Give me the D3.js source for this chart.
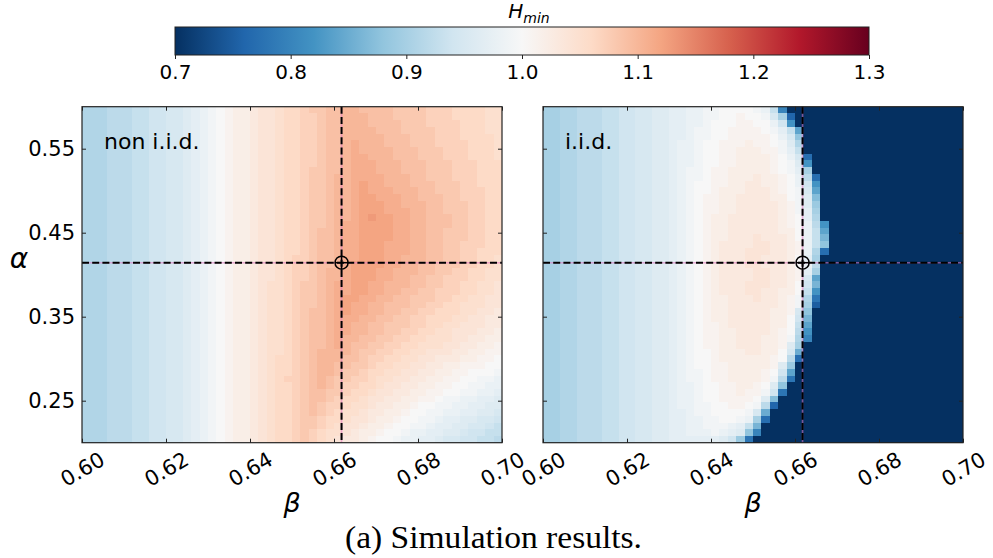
<!DOCTYPE html>
<html>
<head>
<meta charset="utf-8">
<script src="https://cdn.jsdelivr.net/npm/d3@7"></script>
<style>
  html, body { margin: 0; padding: 0; background: #fff; }
  svg text { font-family: "DejaVu Sans", sans-serif; fill: #000; }
</style>
</head>
<body>
<svg id="fig" width="993" height="558"></svg>
<script>
// ---------------- data ----------------
const betaTicks  = [0.60, 0.62, 0.64, 0.66, 0.68, 0.70];
const alphaTicks = [0.25, 0.35, 0.45, 0.55];
const cbarTicks  = [0.7, 0.8, 0.9, 1.0, 1.1, 1.2, 1.3];
const betaRange  = [0.60, 0.70];
const alphaRange = [0.20, 0.60];
const betaStar   = 0.6618;
const alphaStar  = 0.4143;
const panelTitles = ["non i.i.d.", "i.i.d."];

// Each grid row is one alpha cell (top row = alpha 0.60), one character per beta cell.
// A character's index in CODE gives H_min = 0.70 + 0.01 * index.
const CODE = "0123456789abcdefghijklmnopqrstuvwxyzABCDEFGHIJKLMNOPQRSTUVWXYZ";

const nonIidRows = [
  "lllmmmnnooppqrstuvwwxyyzAABCCDDEEDDDDCCCCBBBAAAAzz",
  "lllmmmnnooppqrstuvwwxyyzAABBCDDEEEDDDCCCCBBBAAAAzz",
  "lllmmmnnooppqrstuvwwxyyzAABBCDDEEEDDDDCCCBBBBAAAzz",
  "lllmmmnnooppqrstuvwwxyyzAABBCDDEEEEDDDCCCCBBBAAAzz",
  "lllmmmnnooppqrstuvwwxyyzAABBCDDEEEEEDDDCCCBBBAAAAz",
  "lllmmmnnooppqrstuvwwxyyzAABBCDDEFEEEDDDCCCBBBBAAAz",
  "lllmmmnnooppqrstuvwwxyyzAABBCDDEFEEEEDDDCCCBBBAAAz",
  "lllmmmnnooppqrstuvwwxyyzAABBCDDEFFEEEDDDCCCBBBAAAz",
  "lllmmmnnooppqrstuvwwxyyzAABBCDDEFFFEEEDDDCCCBBBAAA",
  "lllmmmnnooppqrstuvwwxyyzAABCCDDEFFFEEEDDDCCCBBBAAA",
  "lllmmmnnooppqrstuvwwxyyzAABCCDEEFFFFEEEDDCCCBBBAAA",
  "lllmmmnnooppqrstuvwwxyyzAABCCDEEFGFFEEEDDDCCCBBAAA",
  "lllmmmnnooppqrstuvwwxyyzAABCCDEEFGFFFEEEDDCCCBBBAA",
  "lllmmmnnooppqrstuvwwxyyzAABCCDEEFGGFFFEEDDDCCBBBAA",
  "lllmmmnnooppqrstuvwwxyyzAABCCDEEFGGGFFEEEDDCCCBBAA",
  "lllmmmnnooppqrstuvwwxyyzAABCCDEEFGGGFFFEEDDCCCBBAA",
  "lllmmmnnooppqrstuvwwxyyzAABCCDEEFGHGGFFEEDDDCCBBAA",
  "lllmmmnnooppqrstuvwwxyyzAABCCDEFFGGGGFFEEDDDCCBBAA",
  "lllmmmnnooppqrstuvwwxyyzAABCDDEFFGGGGFFEEDDCCCBBAA",
  "lllmmmnnooppqrstuvwwxyyzAABCDDEFFGGGGFFEEDDCCCBBAA",
  "lllmmmnnooppqrstuvwwxyyzAABCDDEFFGGGFFFEEDDCCBBBAA",
  "lllmmmnnooppqrstuvwwxyyzAABCDDEFFGGGFFFEEDDCCBBAAA",
  "lllmmmnnooppqrstuvwwxyyzABBCDDEFFGGGFFEEEDDCCBBAAz",
  "lllmmmnnooppqrstuvwwxyyzABBCDDEFGGGGFFEEDDCCCBBAAz",
  "lllmmmnnooppqrstuvwwxyyzABBCDEEFGGGFFEEEDDCCBBAAzz",
  "lllmmmnnooppqrstuvwwxyyzABBCDEEFGGGFFEEDDCCBBBAAzz",
  "lllmmmnnooppqrstuvwwxyzzABCCDEFFGGFFEEEDDCCBBAAzzy",
  "lllmmmnnooppqrstuvwwxyzzABCCDEFFGGFFEEDDCCBBBAAzzy",
  "lllmmmnnooppqrstuvwwxyzzABCCDEFGGFFEEDDCCCBBAAzzyy",
  "lllmmmnnooppqrstuvwwxyzzABCCDEFGFFEEDDDCCBBAAzzzyy",
  "lllmmmnnooppqrstuvwwxyzzABCDDEFGFFEEDDCCBBAAAzzyyx",
  "lllmmmnnooppqrstuvwwxyzzABCDDEFFFEEDDCCBBAAAzzyyxx",
  "lllmmmnnooppqrstuvwwxyzzABCDDEFFEEDDCCCBBAAzzyyyxx",
  "lllmmmnnooppqrstuvwwxyzzABCDDEFFEEDDCCBBAAzzyyyxxw",
  "lllmmmnnooppqrstuvwwxyzzABCDDEFEEDDCCBBAAzzzyyxxww",
  "lllmmmnnooppqrstuvwwxyzzABCDDEFEDDCCBBAAzzzyyxxwwv",
  "lllmmmnnooppqrstuvwwxyzzABCDEEEEDCCBBAAzzyyyxxwwvv",
  "lllmmmnnooppqrstuvwwxyzAABCDEEEDDCBBAAzzyyxxxwwvvu",
  "lllmmmnnooppqrstuvwwxyzAABCDEEDDCCBAAzzyyxxwwvvvuu",
  "lllmmmnnooppqrstuvwwxyzAABCDEEDCCBAAzzyyxxwwvvuuut",
  "lllmmmnnooppqrstuvwwxyzABBCDEDCCBBAzzyyxxwwvvuutts",
  "lllmmmnnooppqrstuvwwxyzAABCDEDCBBAAzyyxxwwvvuuttss",
  "lllmmmnnooppqrstuvwwxyzAABCDDCCBAAzyyxxwwvvuuttssr",
  "lllmmmnnooppqrstuvwwxyzAABCDDCBAAzyyxxwwvvuttssrrq",
  "lllmmmnnooppqrstuvwwxyzAABCDCBBAzzyxxwwvuuttssrrqq",
  "lllmmmnnooppqrstuvwwxyzAABCDCBAzzyxxwwvuuttssrrqqp",
  "lllmmmnnooppqrstuvwwxyzAABCCBAAzyyxwwvuuttsrrqqppo",
  "lllmmmnnooppqrstuvwwxyzAABCCBAzyyxwwvuuttsrrqqppon",
  "lllmmmnnooppqrstuvwwxyzAABCBAzzyxwwvuutssrrqqpoonn",
  "lllmmmnnooppqrstuvwwxyzAABCBAzyxxwvuutssrrqppoonnm"
];

const iidRows = [
  "kkllmmmnnooppqqrrssttuuuutsna000000000000000000000",
  "kkllmmmnnooppqqrrssttuuvuutpk600000000000000000000",
  "kkllmmmnnooppqqrrsstuuuvvuusoc00000000000000000000",
  "kkllmmmnnooppqqrrsttuuvvvvutrne0000000000000000000",
  "kkllmmmnnooppqqrrsttuuvvvvvuspi0000000000000000000",
  "kkllmmmnnooppqqrsstuuvvvwvvutql0000000000000000000",
  "kkllmmmnnooppqqrsstuuvvwwwvvtrn0000000000000000000",
  "kkllmmmnnooppqqrsstuuvvwwwwvusp7000000000000000000",
  "kkllmmmnnooppqqrsstuuvvwwwwvutqc000000000000000000",
  "kkllmmmnnooppqqrsttuvvwwwwwvutrk000000000000000000",
  "kkllmmmnnooppqqrsttuvvwwwxwwvusm700000000000000000",
  "kkllmmmnnooppqqrstuuvvwwxxwwvusoc00000000000000000",
  "kkllmmmnnooppqqrstuuvwwwxxxwvutpe00000000000000000",
  "kkllmmmnnooppqqrstuvvwwxxxxwwutqh00000000000000000",
  "kkllmmmnnooppqqrstuvvwwxxxxxwvtqj00000000000000000",
  "kkllmmmnnooppqqrstuvvwwxxxxxwvtrk00000000000000000",
  "kkllmmmnnooppqqrstuvwwxxxxxxwvurl00000000000000000",
  "kkllmmmnnooppqqrstuvwwxxxxxxwvusmc0000000000000000",
  "kkllmmmnnooppqqrstuvwwxxxxxxwwusne0000000000000000",
  "kkllmmmnnooppqqrstuvwwxxxyxxxwusng0000000000000000",
  "kkllmmmnnooppqqrstuvwxxxxyyxxwvsni0000000000000000",
  "kkllmmmnnooppqqrstuvwxxxyyyxxwvsl70000000000000000",
  "kkllmmmnnooppqqrstuvwxxxyyxxxwurk00000000000000000",
  "kkllmmmnnooppqqrstuvwxxxyyxxxwusm00000000000000000",
  "kkllmmmnnooppqqrstuvwxxxxyyxxwvrk00000000000000000",
  "kkllmmmnnooppqqrstuvwxxxxyyxxwvpe00000000000000000",
  "kkllmmmnnooppqqrstuvwxxxyyyxxwuog00000000000000000",
  "kkllmmmnnooppqqrstuvwxxxyyxxwwunc00000000000000000",
  "kkllmmmnnooppqqrstuvwwxxxyxxwvtl800000000000000000",
  "kkllmmmnnooppqqrstuvwwxxxxxxwvtk500000000000000000",
  "kkllmmmnnooppqqrstuvwwxxxxxwwvpi000000000000000000",
  "kkllmmmnnooppqqrstuvwwxxxxxwwuog000000000000000000",
  "kkllmmmnnooppqqrstuvvwxxxxxwwune000000000000000000",
  "kkllmmmnnooppqqrstuvvwwxxxxwvumc000000000000000000",
  "kkllmmmnnooppqqrstuvvwwxxxwwvtla000000000000000000",
  "kkllmmmnnooppqqrstuvvwwxxxwwvqk0000000000000000000",
  "kkllmmmnnooppqqrstuuvwwwxxwwupf0000000000000000000",
  "kkllmmmnnooppqqrstuuvwwwwwwvum70000000000000000000",
  "kkllmmmnnooppqqrstuuvvwwwwwvqj00000000000000000000",
  "kkllmmmnnooppqqrsttuvvwwwwvuoe00000000000000000000",
  "kkllmmmnnooppqqrsttuvvwwwwvtm800000000000000000000",
  "kkllmmmnnooppqqrsstuuvvwwvuqi000000000000000000000",
  "kkllmmmnnooppqqrsstuuvvwvvto8000000000000000000000",
  "kkllmmmnnooppqqrsstuuvvvvuqh0000000000000000000000",
  "kkllmmmnnooppqqrssttuuvvutm60000000000000000000000",
  "kkllmmmnnooppqqrrsttuuuutpf00000000000000000000000",
  "kkllmmmnnooppqqrrssttuutsk700000000000000000000000",
  "kkllmmmnnooppqqrrsstttsrng000000000000000000000000",
  "kkllmmmnnooppqqrrssstsrqia000000000000000000000000",
  "kkllmmmnnooppqqrrrrrrqoj80000000000000000000000000"
];

// matplotlib RdBu_r anchor colours, low -> high
const rdbuR = ["#053061", "#2166ac", "#4393c3", "#92c5de", "#d1e5f0", "#f7f7f7",
               "#fddbc7", "#f4a582", "#d6604d", "#b2182b", "#67001f"];
const vmin = 0.7, vmax = 1.3;

// ---------------- layout ----------------
const svg = d3.select("#fig");
const plotTop = 106.7, plotH = 336, plotW = 420;
const panelX = [82, 543];

const color = d3.scaleLinear()
  .domain(rdbuR.map((_, k) => vmin + (vmax - vmin) * k / (rdbuR.length - 1)))
  .range(rdbuR)
  .interpolate(d3.interpolateRgb)
  .clamp(true);

function decode(rows) {
  rows.forEach((r, i) => { if (r.length !== 50) console.error("row", i, "has", r.length); });
  return rows.map(r => Array.from(r, ch => vmin + 0.01 * CODE.indexOf(ch)));
}

const grids = [decode(nonIidRows), decode(iidRows)];

grids.forEach((grid, pi) => {
  const x0 = panelX[pi];
  const x = d3.scaleLinear().domain(betaRange).range([x0, x0 + plotW]);
  const y = d3.scaleLinear().domain(alphaRange).range([plotTop + plotH, plotTop]);
  const nR = grid.length, nC = grid[0].length;
  const db = (betaRange[1] - betaRange[0]) / nC;
  const da = (alphaRange[1] - alphaRange[0]) / nR;

  const g = svg.append("g");
  const cells = [];
  grid.forEach((row, i) => row.forEach((v, j) => cells.push({
    b0: betaRange[0] + j * db, a1: alphaRange[1] - i * da, v
  })));

  g.append("g").attr("shape-rendering", "crispEdges")
    .selectAll("rect").data(cells).join("rect")
    .attr("x", d => x(d.b0))
    .attr("y", d => y(d.a1))
    .attr("width", d => x(d.b0 + db) - x(d.b0))
    .attr("height", d => y(d.a1 - da) - y(d.a1))
    .attr("fill", d => color(d.v));

  // reference lines through the optimum
  const xs = x(betaStar), ys = y(alphaStar);
  const lines = [
    [x.range()[0], ys, x.range()[1], ys],
    [xs, y.range()[1], xs, y.range()[0]]
  ];
  lines.forEach(([x1, y1, x2, y2]) => {
    g.append("line").attr("x1", x1).attr("y1", y1).attr("x2", x2).attr("y2", y2)
      .attr("stroke", "#e377c2").attr("stroke-opacity", 0.55).attr("stroke-width", 1.6);
    g.append("line").attr("x1", x1).attr("y1", y1).attr("x2", x2).attr("y2", y2)
      .attr("stroke", "#000").attr("stroke-width", 2).attr("stroke-dasharray", "7,3.2");
  });

  // optimum marker
  const r = 6.5;
  g.append("circle").attr("cx", xs).attr("cy", ys).attr("r", r)
    .attr("fill", "none").attr("stroke", "#000").attr("stroke-width", 1.5);
  g.append("line").attr("x1", xs - r).attr("x2", xs + r).attr("y1", ys).attr("y2", ys)
    .attr("stroke", "#000").attr("stroke-width", 1.5);
  g.append("line").attr("x1", xs).attr("x2", xs).attr("y1", ys - r).attr("y2", ys + r)
    .attr("stroke", "#000").attr("stroke-width", 1.5);

  // axes: inward ticks on all four sides
  const fmt2 = d3.format(".2f");
  const bottom = g.append("g").attr("transform", `translate(0,${plotTop + plotH})`)
    .call(d3.axisBottom(x).tickValues(betaTicks).tickFormat(fmt2).tickSizeInner(-4).tickSizeOuter(0));
  bottom.selectAll("text")
    .attr("y", 0).attr("dy", "0.35em")
    .attr("transform", "translate(0,26.5) rotate(-30)")
    .style("text-anchor", "middle");
  g.append("g").attr("transform", `translate(0,${plotTop})`)
    .call(d3.axisTop(x).tickValues(betaTicks).tickFormat("").tickSizeInner(-4).tickSizeOuter(0));
  g.append("g").attr("transform", `translate(${x0},0)`)
    .call(d3.axisLeft(y).tickValues(alphaTicks)
      .tickFormat(pi === 0 ? fmt2 : "").tickSizeInner(-4).tickSizeOuter(0).tickPadding(7));
  g.append("g").attr("transform", `translate(${x0 + plotW},0)`)
    .call(d3.axisRight(y).tickValues(alphaTicks).tickFormat("").tickSizeInner(-4).tickSizeOuter(0));

  g.selectAll(".domain").remove();
  g.selectAll(".tick line").attr("stroke", "#222").attr("stroke-width", 1);
  g.selectAll(".tick text").attr("font-size", 21).attr("font-family", "DejaVu Sans").attr("fill", "#000");

  // frame
  g.append("rect").attr("x", x0).attr("y", plotTop).attr("width", plotW).attr("height", plotH)
    .attr("fill", "none").attr("stroke", "#222").attr("stroke-width", 1.2);

  // panel title
  g.append("text").attr("x", x0 + 22).attr("y", 149).attr("font-size", 22).text(panelTitles[pi]);

  // beta axis label
  g.append("text").attr("x", x0 + plotW / 2).attr("y", 512)
    .attr("text-anchor", "middle").attr("font-size", 27).attr("font-style", "italic").text("β");
});

// alpha axis label
svg.append("text").attr("x", 19).attr("y", 268)
  .attr("text-anchor", "middle").attr("font-size", 28).attr("font-style", "italic").text("α");

// ---------------- colour bar ----------------
const cb = { x: 175, y: 27, w: 694, h: 28 };
const defs = svg.append("defs");
const grad = defs.append("linearGradient").attr("id", "cbgrad")
  .attr("x1", "0%").attr("x2", "100%").attr("y1", "0%").attr("y2", "0%");
rdbuR.forEach((c, k) => grad.append("stop")
  .attr("offset", (100 * k / (rdbuR.length - 1)) + "%").attr("stop-color", c));

const cx = d3.scaleLinear().domain([vmin, vmax]).range([cb.x, cb.x + cb.w]);
svg.append("rect").attr("x", cb.x).attr("y", cb.y).attr("width", cb.w).attr("height", cb.h)
  .attr("fill", "url(#cbgrad)").attr("stroke", "#222").attr("stroke-width", 1);

const cbAxis = svg.append("g").attr("transform", `translate(0,${cb.y + cb.h})`)
  .call(d3.axisBottom(cx).tickValues(cbarTicks).tickFormat(d3.format(".1f")).tickSize(4).tickPadding(6));
cbAxis.select(".domain").remove();
cbAxis.selectAll(".tick line").attr("stroke", "#222");
cbAxis.selectAll(".tick text").attr("font-size", 20).attr("font-family", "DejaVu Sans").attr("fill", "#000");

const lab = svg.append("text").attr("x", 529).attr("y", 18).attr("text-anchor", "middle")
  .attr("font-style", "italic").attr("font-size", 20);
lab.append("tspan").text("H");
lab.append("tspan").attr("font-size", 14).attr("dy", 5).text("min");

// ---------------- caption ----------------
svg.append("text").attr("x", 493.5).attr("y", 548).attr("text-anchor", "middle")
  .style("font-family", "'Liberation Serif', serif")
  .attr("font-size", 32).attr("textLength", 297).attr("lengthAdjust", "spacingAndGlyphs")
  .text("(a) Simulation results.");
</script>
</body>
</html>
